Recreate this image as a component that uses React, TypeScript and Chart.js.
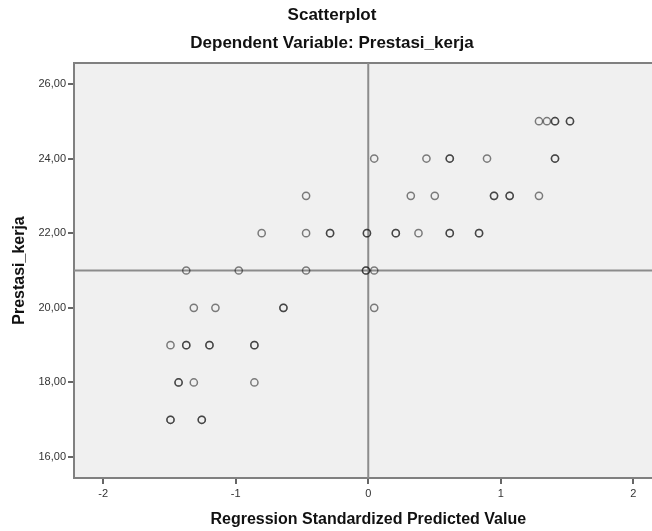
import React, { useEffect, useRef } from "react";
import { Chart, registerables } from "chart.js";

Chart.register(...registerables);

// Regression Standardized Predicted Value (x) and Prestasi_kerja (y).
// Repeated pairs are overlapping cases (drawn darker).
const predictedValues: number[] = [
  1.288, 1.348, 1.409, 1.409, 1.522, 1.522,
  0.045, 0.439, 0.615, 0.615, 0.896, 1.409, 1.409,
  -0.469, 0.321, 0.502, 0.949, 0.949, 1.067, 1.067, 1.288,
  -0.804, -0.469, -0.288, -0.288, -0.01, -0.01, 0.208, 0.208, 0.379, 0.615, 0.615, 0.836, 0.836,
  -1.373, -0.977, -0.469, -0.017, -0.017, 0.045,
  -1.316, -1.153, -0.64, -0.64, 0.045,
  -1.492, -1.373, -1.373, -1.198, -1.198, -0.859, -0.859,
  -1.431, -1.431, -1.316, -0.859,
  -1.492, -1.492, -1.256, -1.256,
];
const prestasiKerja: number[] = [
  25, 25, 25, 25, 25, 25,
  24, 24, 24, 24, 24, 24, 24,
  23, 23, 23, 23, 23, 23, 23, 23,
  22, 22, 22, 22, 22, 22, 22, 22, 22, 22, 22, 22, 22,
  21, 21, 21, 21, 21, 21,
  20, 20, 20, 20, 20,
  19, 19, 19, 19, 19, 19, 19,
  18, 18, 18, 18,
  17, 17, 17, 17,
];
const xTicks: number[] = [-2, -1, 0, 1, 2];
const yTicks: number[] = [16, 18, 20, 22, 24, 26];
const xRefLine = 0;
const yRefLine = 21;

const FONT = '"Liberation Sans", Arial, sans-serif';

const framePlugin = {
  id: "spssFrame",
  beforeDatasetsDraw(chart: any) {
    const { ctx, chartArea } = chart;
    const { left, right, top, bottom } = chartArea;
    ctx.save();
    ctx.fillStyle = "#f0f0f0";
    ctx.fillRect(left, top, right - left, bottom - top);
    ctx.strokeStyle = "#808080";
    ctx.lineWidth = 2;
    ctx.strokeRect(left, top, right - left, bottom - top);
    const xs = chart.scales.x.getPixelForValue(xRefLine);
    const ys = chart.scales.y.getPixelForValue(yRefLine);
    ctx.strokeStyle = "#8c8c8c";
    ctx.beginPath();
    ctx.moveTo(xs, top);
    ctx.lineTo(xs, bottom);
    ctx.moveTo(left, ys);
    ctx.lineTo(right, ys);
    ctx.stroke();
    ctx.restore();
  },
};

export default function App() {
  const ref = useRef<HTMLCanvasElement | null>(null);
  useEffect(() => {
    if (!ref.current) return;
    const points = predictedValues.map((x, i) => ({ x, y: prestasiKerja[i] }));
    const chart = new Chart(ref.current, {
      type: "scatter",
      data: {
        datasets: [
          {
            data: points,
            pointStyle: "circle",
            pointRadius: 3.6,
            pointBorderWidth: 1.5,
            pointBackgroundColor: "rgba(0,0,0,0)",
            pointBorderColor: "rgba(25,25,25,0.55)",
          },
        ],
      },
      options: {
        responsive: false,
        animation: false,
        devicePixelRatio: 1,
        layout: { padding: { left: 0, top: 0, bottom: 0, right: 4 } },
        plugins: {
          legend: { display: false },
          tooltip: { enabled: false },
          title: {
            display: true,
            text: "Scatterplot",
            color: "#111",
            font: { family: FONT, size: 17, weight: "bold" },
            padding: { top: 4.8, bottom: 3 },
          },
          subtitle: {
            display: true,
            text: "Dependent Variable: Prestasi_kerja",
            color: "#111",
            font: { family: FONT, size: 17, weight: "bold" },
            padding: { top: 4.6, bottom: 9.8 },
          },
        },
        scales: {
          x: {
            type: "linear",
            min: -2.22,
            max: 2.22,
            afterBuildTicks: (s: any) => {
              s.ticks = xTicks.map((v) => ({ value: v }));
            },
            afterFit: (s: any) => {
              s.height = 53;
              s.paddingLeft = 0;
              s.paddingRight = 0;
            },
            grid: { drawOnChartArea: false, drawTicks: true, tickLength: 6, color: "#666", lineWidth: 2 },
            border: { display: false },
            ticks: {
              color: "#333",
              font: { family: FONT, size: 11 },
              padding: 3,
              callback: (v: any) => String(v),
            },
            title: {
              display: true,
              text: "Regression Standardized Predicted Value",
              color: "#111",
              font: { family: FONT, size: 16, weight: "bold" },
              padding: { top: 0, bottom: 1.4 },
            },
          },
          y: {
            type: "linear",
            min: 15.44,
            max: 26.56,
            afterBuildTicks: (s: any) => {
              s.ticks = yTicks.map((v) => ({ value: v }));
            },
            afterFit: (s: any) => {
              s.width = 74;
              s.paddingTop = 0;
              s.paddingBottom = 0;
            },
            grid: { drawOnChartArea: false, drawTicks: true, tickLength: 6, color: "#666", lineWidth: 2 },
            border: { display: false },
            ticks: {
              color: "#333",
              font: { family: FONT, size: 11 },
              padding: 2,
              callback: (v: any) => Number(v).toFixed(2).replace(".", ","),
            },
            title: {
              display: true,
              text: "Prestasi_kerja",
              color: "#111",
              font: { family: FONT, size: 16, weight: "bold" },
              padding: { top: 10.4, bottom: 0 },
            },
          },
        },
      },
      plugins: [framePlugin],
    });
    return () => chart.destroy();
  }, []);

  return (
    <div
      style={{
        position: "fixed",
        left: 0,
        top: 0,
        width: 652,
        height: 531,
        overflow: "hidden",
        background: "#fff",
      }}
    >
      <canvas ref={ref} width={668} height={531} style={{ width: 668, height: 531, display: "block" }} />
    </div>
  );
}
